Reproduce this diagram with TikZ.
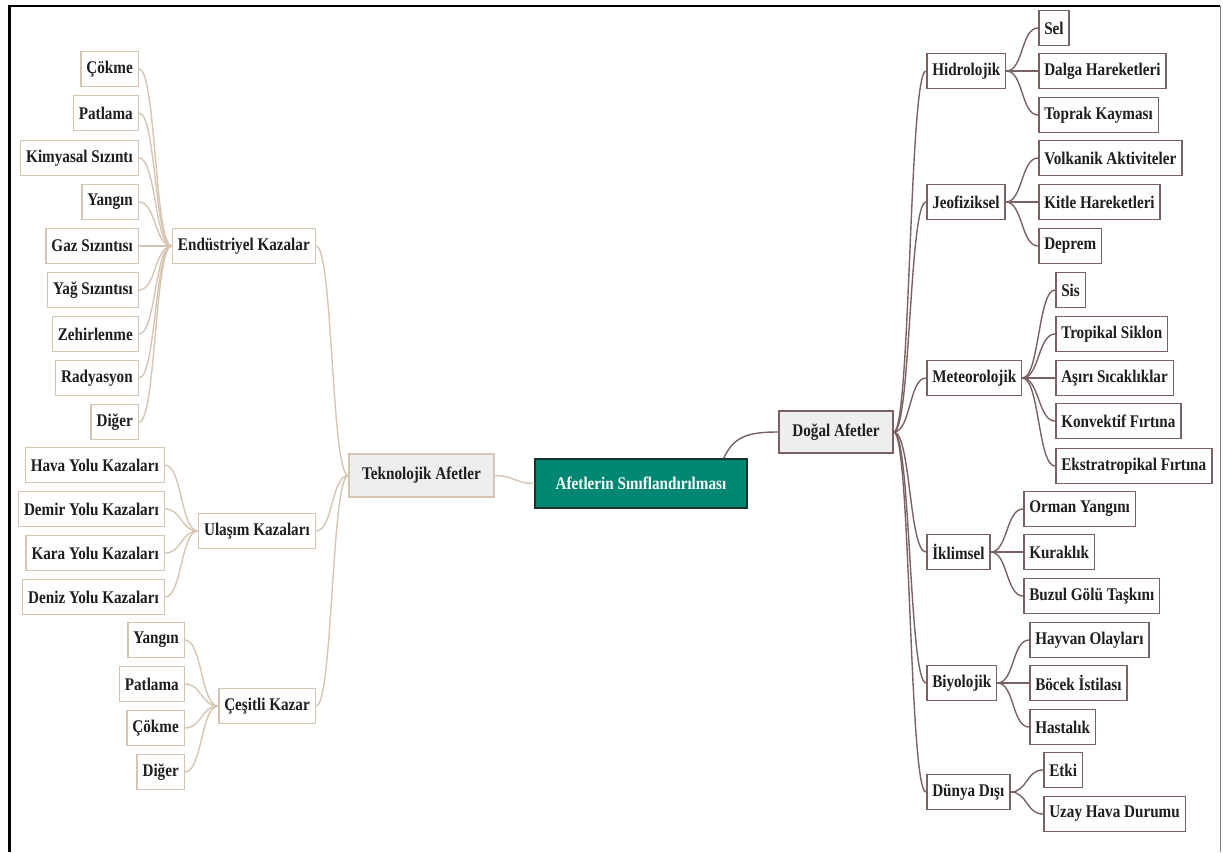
\documentclass[tikz,border=0pt]{standalone}
\usepackage{fontspec}
\setmainfont{Liberation Serif}[FakeStretch=0.85]
\definecolor{tekLine}{RGB}{214,197,178}
\definecolor{dogLine}{RGB}{122,98,98}
\definecolor{boxGray}{RGB}{238,238,238}
\definecolor{rootTeal}{RGB}{0,135,116}
\definecolor{rootEdge}{RGB}{28,48,44}
\definecolor{labelInk}{RGB}{30,30,30}
\tikzset{
	leafFont/.style={font=\fontsize{10.15}{12}\selectfont\bfseries, text=labelInk},
	tekBox/.style={rectangle, leafFont, draw=tekLine, fill=white, line width=0.03cm, minimum height=0.7cm, inner xsep=0.11cm},
	dogBox/.style={rectangle, leafFont, draw=dogLine, fill=white, line width=0.03cm, minimum height=0.7cm, inner xsep=0.11cm},
	tekLink/.style={draw=tekLine, line width=0.028cm},
	dogLink/.style={draw=dogLine, line width=0.028cm}
}
\begin{document}
\begin{tikzpicture}[x=0.02cm, y=-0.02cm]
	\useasboundingbox (0,0) rectangle (1223,852);
	% frame
	\draw[black, line width=0.06cm] (9.5,852) -- (9.5,6) -- (1220,6);
	\draw[gray, line width=0.02cm] (1220.5,6) -- (1220.5,852);

	% centre
	\node[rectangle, draw=rootEdge, fill=rootTeal, line width=0.03cm, minimum width=4.24cm, minimum height=0.98cm, font=\fontsize{10.15}{12}\selectfont\bfseries, text=white](root) at (641,483.5){Afetlerin Sınıflandırılması};
	\node[tekBox, fill=boxGray, minimum width=2.9cm, minimum height=0.86cm](tek) at (421.5,475.5){Teknolojik Afetler};
	\node[dogBox, fill=boxGray, minimum width=2.28cm, minimum height=0.84cm](dog) at (836,432){Doğal Afetler};
	\draw[tekLink] (root.west) .. controls +(-20,0) and +(20,0) .. (tek.east);
	\draw[dogLink] ([xshift=-0.48cm]root.north east) .. controls +(10,-22) and +(-30,0) .. (dog.west);

	% teknolojik afetler
	\node[tekBox, anchor=east](endK) at (316,246){Endüstriyel Kazalar};
	\node[tekBox, anchor=east](ulaK) at (316,531){Ulaşım Kazaları};
	\node[tekBox, anchor=east](cesK) at (316,706){Çeşitli Kazar};
	\draw[tekLink] (tek.west) .. controls +(-17,0) and +(17,0) .. (endK.east);
	\draw[tekLink] (tek.west) .. controls +(-17,0) and +(17,0) .. (ulaK.east);
	\draw[tekLink] (tek.west) .. controls +(-17,0) and +(17,0) .. (cesK.east);

	% endustriyel kazalar
	\node[tekBox, anchor=east](endK1) at (139,69){Çökme};
	\node[tekBox, anchor=east](endK2) at (139,113){Patlama};
	\node[tekBox, anchor=east](endK3) at (139,158){Kimyasal Sızıntı};
	\node[tekBox, anchor=east](endK4) at (139,202){Yangın};
	\node[tekBox, anchor=east](endK5) at (139,246){Gaz Sızıntısı};
	\node[tekBox, anchor=east](endK6) at (139,290){Yağ Sızıntısı};
	\node[tekBox, anchor=east](endK7) at (139,334){Zehirlenme};
	\node[tekBox, anchor=east](endK8) at (139,378){Radyasyon};
	\node[tekBox, anchor=east](endK9) at (139,422){Diğer};
	\draw[tekLink] (endK.west) .. controls +(-17,0) and +(17,0) .. (endK1.east);
	\draw[tekLink] (endK.west) .. controls +(-17,0) and +(17,0) .. (endK2.east);
	\draw[tekLink] (endK.west) .. controls +(-17,0) and +(17,0) .. (endK3.east);
	\draw[tekLink] (endK.west) .. controls +(-17,0) and +(17,0) .. (endK4.east);
	\draw[tekLink] (endK.west) .. controls +(-17,0) and +(17,0) .. (endK5.east);
	\draw[tekLink] (endK.west) .. controls +(-17,0) and +(17,0) .. (endK6.east);
	\draw[tekLink] (endK.west) .. controls +(-17,0) and +(17,0) .. (endK7.east);
	\draw[tekLink] (endK.west) .. controls +(-17,0) and +(17,0) .. (endK8.east);
	\draw[tekLink] (endK.west) .. controls +(-17,0) and +(17,0) .. (endK9.east);

	% ulasim kazalari
	\node[tekBox, anchor=east](ulaK1) at (165,465){Hava Yolu Kazaları};
	\node[tekBox, anchor=east](ulaK2) at (165,509){Demir Yolu Kazaları};
	\node[tekBox, anchor=east](ulaK3) at (165,553){Kara Yolu Kazaları};
	\node[tekBox, anchor=east](ulaK4) at (165,597){Deniz Yolu Kazaları};
	\draw[tekLink] (ulaK.west) .. controls +(-17,0) and +(17,0) .. (ulaK1.east);
	\draw[tekLink] (ulaK.west) .. controls +(-17,0) and +(17,0) .. (ulaK2.east);
	\draw[tekLink] (ulaK.west) .. controls +(-17,0) and +(17,0) .. (ulaK3.east);
	\draw[tekLink] (ulaK.west) .. controls +(-17,0) and +(17,0) .. (ulaK4.east);

	% cesitli kazar
	\node[tekBox, anchor=east](cesK1) at (185,640){Yangın};
	\node[tekBox, anchor=east](cesK2) at (185,684){Patlama};
	\node[tekBox, anchor=east](cesK3) at (185,728){Çökme};
	\node[tekBox, anchor=east](cesK4) at (185,772){Diğer};
	\draw[tekLink] (cesK.west) .. controls +(-17,0) and +(17,0) .. (cesK1.east);
	\draw[tekLink] (cesK.west) .. controls +(-17,0) and +(17,0) .. (cesK2.east);
	\draw[tekLink] (cesK.west) .. controls +(-17,0) and +(17,0) .. (cesK3.east);
	\draw[tekLink] (cesK.west) .. controls +(-17,0) and +(17,0) .. (cesK4.east);

	% dogal afetler
	\node[dogBox, anchor=west](hid) at (926,71){Hidrolojik};
	\node[dogBox, anchor=west](jeo) at (926,202){Jeofiziksel};
	\node[dogBox, anchor=west](met) at (926,378){Meteorolojik};
	\node[dogBox, anchor=west](ikl) at (926,552){İklimsel};
	\node[dogBox, anchor=west](biy) at (926,683){Biyolojik};
	\node[dogBox, anchor=west](dun) at (926,792){Dünya Dışı};
	\draw[dogLink] (dog.east) .. controls +(17,0) and +(-17,0) .. (hid.west);
	\draw[dogLink] (dog.east) .. controls +(17,0) and +(-17,0) .. (jeo.west);
	\draw[dogLink] (dog.east) .. controls +(17,0) and +(-17,0) .. (met.west);
	\draw[dogLink] (dog.east) .. controls +(17,0) and +(-17,0) .. (ikl.west);
	\draw[dogLink] (dog.east) .. controls +(17,0) and +(-17,0) .. (biy.west);
	\draw[dogLink] (dog.east) .. controls +(17,0) and +(-17,0) .. (dun.west);

	% hidrolojik
	\node[dogBox, anchor=west](hid1) at (1038,28){Sel};
	\node[dogBox, anchor=west](hid2) at (1038,71){Dalga Hareketleri};
	\node[dogBox, anchor=west](hid3) at (1038,115){Toprak Kayması};
	\draw[dogLink] (hid.east) .. controls +(17,0) and +(-17,0) .. (hid1.west);
	\draw[dogLink] (hid.east) .. controls +(17,0) and +(-17,0) .. (hid2.west);
	\draw[dogLink] (hid.east) .. controls +(17,0) and +(-17,0) .. (hid3.west);

	% jeofiziksel
	\node[dogBox, anchor=west](jeo1) at (1038,158){Volkanik Aktiviteler};
	\node[dogBox, anchor=west](jeo2) at (1038,202){Kitle Hareketleri};
	\node[dogBox, anchor=west](jeo3) at (1038,246){Deprem};
	\draw[dogLink] (jeo.east) .. controls +(17,0) and +(-17,0) .. (jeo1.west);
	\draw[dogLink] (jeo.east) .. controls +(17,0) and +(-17,0) .. (jeo2.west);
	\draw[dogLink] (jeo.east) .. controls +(17,0) and +(-17,0) .. (jeo3.west);

	% meteorolojik
	\node[dogBox, anchor=west](met1) at (1055,290){Sis};
	\node[dogBox, anchor=west](met2) at (1055,334){Tropikal Siklon};
	\node[dogBox, anchor=west](met3) at (1055,378){Aşırı Sıcaklıklar};
	\node[dogBox, anchor=west](met4) at (1055,421){Konvektif Fırtına};
	\node[dogBox, anchor=west](met5) at (1055,466){Ekstratropikal Fırtına};
	\draw[dogLink] (met.east) .. controls +(17,0) and +(-17,0) .. (met1.west);
	\draw[dogLink] (met.east) .. controls +(17,0) and +(-17,0) .. (met2.west);
	\draw[dogLink] (met.east) .. controls +(17,0) and +(-17,0) .. (met3.west);
	\draw[dogLink] (met.east) .. controls +(17,0) and +(-17,0) .. (met4.west);
	\draw[dogLink] (met.east) .. controls +(17,0) and +(-17,0) .. (met5.west);

	% iklimsel
	\node[dogBox, anchor=west](ikl1) at (1023,509){Orman Yangını};
	\node[dogBox, anchor=west](ikl2) at (1023,552){Kuraklık};
	\node[dogBox, anchor=west](ikl3) at (1023,596){Buzul Gölü Taşkını};
	\draw[dogLink] (ikl.east) .. controls +(17,0) and +(-17,0) .. (ikl1.west);
	\draw[dogLink] (ikl.east) .. controls +(17,0) and +(-17,0) .. (ikl2.west);
	\draw[dogLink] (ikl.east) .. controls +(17,0) and +(-17,0) .. (ikl3.west);

	% biyolojik
	\node[dogBox, anchor=west](biy1) at (1029,640){Hayvan Olayları};
	\node[dogBox, anchor=west](biy2) at (1029,683){Böcek İstilası};
	\node[dogBox, anchor=west](biy3) at (1029,727){Hastalık};
	\draw[dogLink] (biy.east) .. controls +(17,0) and +(-17,0) .. (biy1.west);
	\draw[dogLink] (biy.east) .. controls +(17,0) and +(-17,0) .. (biy2.west);
	\draw[dogLink] (biy.east) .. controls +(17,0) and +(-17,0) .. (biy3.west);

	% dunya disi
	\node[dogBox, anchor=west](dun1) at (1043,770){Etki};
	\node[dogBox, anchor=west](dun2) at (1043,814){Uzay Hava Durumu};
	\draw[dogLink] (dun.east) .. controls +(17,0) and +(-17,0) .. (dun1.west);
	\draw[dogLink] (dun.east) .. controls +(17,0) and +(-17,0) .. (dun2.west);
\end{tikzpicture}
\end{document}
